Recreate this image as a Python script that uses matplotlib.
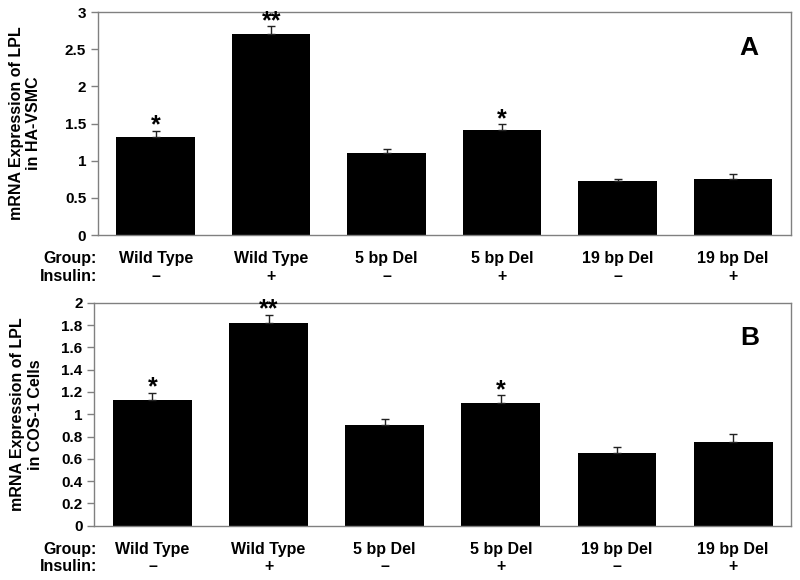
import matplotlib.pyplot as plt
import numpy as np

plt.rcParams['font.family'] = ['Liberation Sans', 'DejaVu Sans']
plt.rcParams['font.weight'] = 'bold'

groups = ['Wild Type', 'Wild Type', '5 bp Del', '5 bp Del', '19 bp Del', '19 bp Del']
insulin = ['–', '+', '–', '+', '–', '+']
stars = ['*', '**', '', '*', '', '']

# panel A: HA-VSMC
vsmc_mean = [1.32, 2.71, 1.10, 1.41, 0.72, 0.75]
vsmc_err = [0.08, 0.10, 0.06, 0.08, 0.04, 0.07]
# panel B: COS-1 cells
cos_mean = [1.125, 1.815, 0.90, 1.10, 0.65, 0.755]
cos_err = [0.065, 0.075, 0.055, 0.07, 0.06, 0.065]

fig = plt.figure(figsize=(8, 5.8), dpi=100)
ax1 = fig.add_axes([0.1225, 0.5948, 0.866, 0.3845])
ax2 = fig.add_axes([0.118, 0.0936, 0.871, 0.3845])

panels = [
    (ax1, vsmc_mean, vsmc_err, 'mRNA Expression of LPL\nin HA-VSMC', 3, 0.5, 'A', -0.082),
    (ax2, cos_mean, cos_err, 'mRNA Expression of LPL\nin COS-1 Cells', 2, 0.2, 'B', -0.074),
]

for ax, mean, err, ylab, ymax, step, letter, labx in panels:
    x = np.arange(len(mean))
    ax.bar(x, mean, width=0.68, color='black', zorder=2)
    # only the upper half of the error bar is shown
    ax.errorbar(x, mean, yerr=[np.zeros(len(err)), err], fmt='none',
                ecolor='#222222', elinewidth=1, capsize=3, capthick=1, zorder=3)
    for xi, m, e, s in zip(x, mean, err, stars):
        if s:
            ax.text(xi, m + e - ymax * 0.03, s, ha='center', va='bottom',
                    fontsize=18, fontweight='bold')
    ax.set_xlim(-0.5, 5.5)
    ax.set_ylim(0, ymax)
    ticks = np.arange(0, ymax + step / 2, step)
    ax.set_yticks(ticks)
    ax.set_yticklabels(['%g' % v for v in ticks], fontsize=11, fontweight='bold')
    ax.set_xticks([])
    for sp in ax.spines.values():
        sp.set_color('#808080')
        sp.set_linewidth(1)
    ax.tick_params(axis='y', color='#808080', length=5, width=1)
    ax.set_ylabel(ylab, fontsize=11.5, fontweight='bold')
    ax.yaxis.set_label_coords(labx, 0.5)
    ax.text(0.94, 0.84, letter, transform=ax.transAxes, ha='center', va='center',
            fontsize=19, fontweight='bold')

    tr = ax.get_xaxis_transform()
    for xi, g, ins in zip(x, groups, insulin):
        ax.text(xi, -0.105, g, transform=tr, ha='center', va='center',
                fontsize=11.5, fontweight='bold')
        ax.text(xi, -0.185, ins, transform=tr, ha='center', va='center',
                fontsize=11.5, fontweight='bold')

    # row captions, right-aligned at the same figure x for both panels
    bb = ax.get_position()
    for frac, cap in [(-0.105, 'Group:'), (-0.185, 'Insulin:')]:
        fig.text(97 / 800, bb.y0 + frac * bb.height, cap, ha='right', va='center',
                 fontsize=11.5, fontweight='bold')

plt.savefig('out.png', dpi=100)
